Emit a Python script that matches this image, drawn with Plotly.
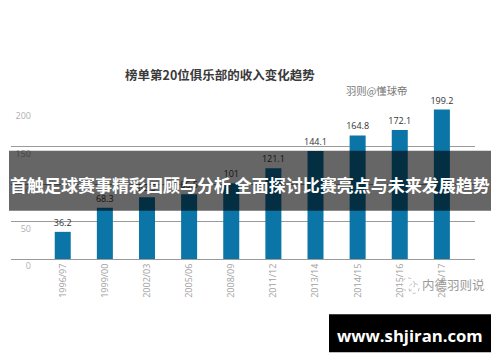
import plotly.graph_objects as go

seasons = ["1996/97","1999/00","2002/03","2005/06","2008/09","2011/12","2013/14","2014/15","2015/16","2016/17"]
revenue = [36.2,68.3,82.5,86.5,101,121.1,144.1,164.8,172.1,199.2]
value_labels = ["36.2","68.3","82.5","86.5","101","121.1","144.1","164.8","172.1","199.2"]
y_ticks = [0,50,100,150,200]
title_text = "榜单第20位俱乐部的收入变化趋势"
credit_text = "羽则@懂球帝"
banner_text = "首触足球赛事精彩回顾与分析 全面探讨比赛亮点与未来发展趋势"
site_text = "www.shjiran.com"
watermark_text = "内德羽则说"

W, H = 500, 362
L, R, T, B = 11, 475, 109, 259.5
px = lambda v: (v - L) / (R - L)
py = lambda v: (B - v) / (B - T)
CJK = "Noto Sans CJK SC"

fig = go.Figure(go.Bar(
    x=list(range(len(seasons))), y=revenue, width=0.38,
    marker=dict(color="#0a75a6", line=dict(width=0)),
    text=value_labels, textposition="outside", cliponaxis=False, textangle=0,
    constraintext="none",
    textfont=dict(family="Open Sans", size=9, color="#333333"),
))
fig.update_layout(
    width=W, height=H, showlegend=False, plot_bgcolor="white", paper_bgcolor="white",
    margin=dict(l=L, r=W-R, t=T, b=H-B, autoexpand=False),
    xaxis=dict(
        tickmode="array", tickvals=list(range(len(seasons))), ticktext=seasons,
        tickangle=-90, range=[-1.228, 9.786], showgrid=False, zeroline=False,
        showline=True, linecolor="#9a9a9a", linewidth=1, ticks="",
        tickfont=dict(family="Open Sans", size=9, color="#a0a0a0"),
    ),
    yaxis=dict(
        tickmode="array", tickvals=y_ticks, range=[0,200],
        anchor="free", position=px(31), showline=False, ticks="",
        showgrid=True, gridcolor="#9a9a9a", gridwidth=1, zeroline=False,
        ticklabelshift=7, ticklabelstandoff=0,
        tickfont=dict(family="Open Sans", size=9, color="#b0b0b0"),
    ),
)
fig.add_shape(type="rect", xref="paper", yref="paper", x0=px(9), x1=px(491), y0=py(151), y1=py(211),
              fillcolor="rgba(0,0,0,0.6)", line_width=0, layer="above")
fig.add_shape(type="rect", xref="paper", yref="paper", x0=px(329), x1=px(491), y0=py(315), y1=py(353),
              fillcolor="black", line_width=0, layer="above")
# faint dotted watermark icon
for cx, cy, r in [(408, 285, 6.5), (414, 289, 5)]:
    fig.add_shape(type="circle", xref="paper", yref="paper", x0=px(cx-r), x1=px(cx+r), y0=py(cy+r), y1=py(cy-r),
                  line=dict(color="#bdbdbd", width=1, dash="dot"), layer="above")
def note(text, x, y, size, color, weight=400, family=CJK):
    fig.add_annotation(text=text, xref="paper", yref="paper", x=px(x), y=py(y), showarrow=False,
                       xanchor="center", yanchor="middle",
                       font=dict(family=family, size=size, color=color, weight=weight))
note(title_text, 219.5, 74, 12.5, "#3a3a3a", 700)
note(credit_text, 376, 90, 10.3, "#777777")
note(banner_text, 250, 184.5, 17, "white", 700)
note(site_text, 410, 336, 16.7, "white", 700, "Open Sans")
note(watermark_text, 453, 285.5, 12.5, "#9a9a9a")
fig.write_html("out.html", config=dict(displayModeBar=False), post_script="document.body.style.margin='0';")
